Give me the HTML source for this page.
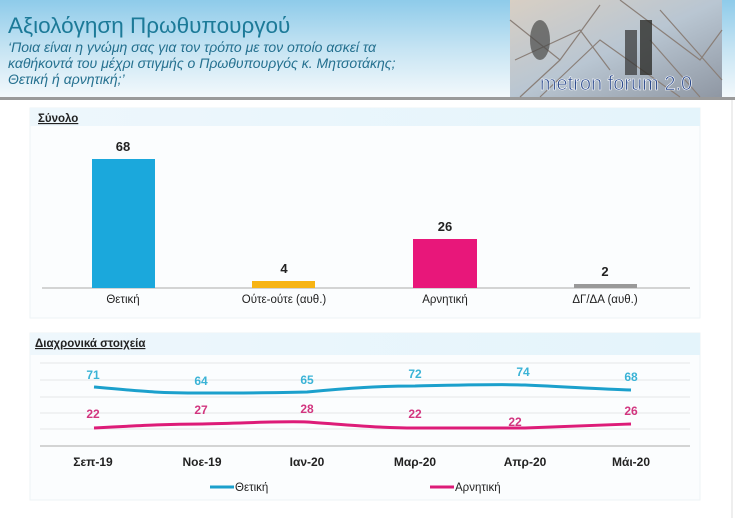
<!DOCTYPE html>
<html><head><meta charset="utf-8"><style>
body{margin:0;width:735px;height:518px;overflow:hidden;background:#fff;font-family:"Liberation Sans","DejaVu Sans",sans-serif;}
</style></head><body>
<svg width="735" height="518" xmlns="http://www.w3.org/2000/svg" font-family="Liberation Sans, DejaVu Sans, sans-serif">
<defs>
<linearGradient id="hd" x1="0" y1="0" x2="0" y2="1"><stop offset="0" stop-color="#8ecbea"/><stop offset="0.5" stop-color="#c6e4f3"/><stop offset="1" stop-color="#f4f9fc"/></linearGradient>
<linearGradient id="ph" x1="0" y1="0" x2="1" y2="0"><stop offset="0" stop-color="#eef7fc"/><stop offset="1" stop-color="#e4f4fb"/></linearGradient>
<linearGradient id="im" x1="0" y1="0" x2="1" y2="1"><stop offset="0" stop-color="#d8cfc4"/><stop offset="0.5" stop-color="#b9c6d2"/><stop offset="1" stop-color="#8f97a3"/></linearGradient>
</defs>
<rect x="0" y="0" width="735" height="98" fill="url(#hd)"/>
<rect x="0" y="97" width="735" height="3" fill="#9a9a9a"/>
<rect x="510" y="0" width="212" height="97" fill="url(#im)"/>
<path d="M510 20 L560 60 L600 5 M540 97 L600 40 L680 97 M620 0 L700 60 L722 30 M560 60 L520 97 M650 40 L700 97 M515 60 L580 30 L610 70 M660 10 L722 80" stroke="#8a7f78" stroke-width="1.2" fill="none"/>
<ellipse cx="540" cy="40" rx="10" ry="20" fill="#4a4a48" opacity="0.7"/>
<rect x="625" y="30" width="12" height="45" fill="#333" opacity="0.7"/>
<rect x="640" y="20" width="12" height="55" fill="#2e2e2a" opacity="0.8"/>
<text x="616" y="90" font-size="20" fill="#2b4a8c" stroke="#ffffff" stroke-width="0.6" text-anchor="middle">metron forum 2.0</text>
<line x1="732" y1="100" x2="732" y2="518" stroke="#ddd"/>
<text x="8" y="33" font-size="22.5" fill="#1c7a98">Αξιολόγηση Πρωθυπουργού</text>
<g font-size="14" font-style="italic" fill="#24708f">
<text x="8" y="52">‘Ποια είναι η γνώμη σας για τον τρόπο με τον οποίο ασκεί τα</text>
<text x="8" y="68">καθήκοντά του μέχρι στιγμής ο Πρωθυπουργός κ. Μητσοτάκης;</text>
<text x="8" y="84">Θετική ή αρνητική;’</text>
</g>
<rect x="30" y="108" width="670" height="210" fill="#fbfdfe" stroke="#eef3f6"/>
<rect x="30" y="108" width="670" height="18" fill="url(#ph)"/>
<text x="38" y="122" font-size="11.5" font-weight="bold" fill="#222" text-decoration="underline">Σύνολο</text>
<line x1="42" y1="288" x2="690" y2="288" stroke="#bbb" stroke-width="1.2"/>
<rect x="92" y="159" width="63" height="129" fill="#1ba8dc"/>
<rect x="252" y="281" width="63" height="7" fill="#f7b414"/>
<rect x="413" y="239" width="64" height="49" fill="#e8177a"/>
<rect x="574" y="284" width="63" height="4" fill="#999"/>
<g font-size="13" font-weight="bold" fill="#222" text-anchor="middle">
<text x="123" y="151">68</text><text x="284" y="273">4</text><text x="445" y="231">26</text><text x="605" y="276">2</text>
</g>
<g font-size="11.5" fill="#222" text-anchor="middle">
<text x="123" y="303">Θετική</text><text x="284" y="303">Ούτε-ούτε (αυθ.)</text><text x="445" y="303">Αρνητική</text><text x="605" y="303">ΔΓ/ΔΑ (αυθ.)</text>
</g>
<rect x="30" y="333" width="670" height="167" fill="#fbfdfe" stroke="#eef3f6"/>
<rect x="30" y="333" width="670" height="22" fill="url(#ph)"/>
<text x="35" y="347" font-size="11.5" font-weight="bold" fill="#222" text-decoration="underline">Διαχρονικά στοιχεία</text>
<g stroke="#e4e6e8" stroke-width="1">
<line x1="40" y1="363" x2="690" y2="363"/><line x1="40" y1="380" x2="690" y2="380"/><line x1="40" y1="397" x2="690" y2="397"/><line x1="40" y1="413" x2="690" y2="413"/><line x1="40" y1="429" x2="690" y2="429"/>
</g>
<line x1="40" y1="446" x2="690" y2="446" stroke="#bbb" stroke-width="1.2"/>
<path d="M94 387 C150 392 160 393 202 393 C250 393 270 393 307 392 C350 388 380 386 415 386 C460 385 500 384 525 385 C570 387 600 389 631 390" stroke="#1ba0cc" stroke-width="3" fill="none"/>
<path d="M94 428 C150 425 170 424 202 424 C250 423 280 421 307 422 C350 425 380 428 415 428 C460 428 500 428 525 428 C570 426 600 425 631 424" stroke="#dd1c78" stroke-width="3" fill="none"/>
<g font-size="12" font-weight="bold" fill="#3ab3d6" text-anchor="middle">
<text x="93" y="379">71</text><text x="201" y="385">64</text><text x="307" y="384">65</text><text x="415" y="378">72</text><text x="523" y="376">74</text><text x="631" y="381">68</text>
</g>
<g font-size="12" font-weight="bold" fill="#d2357f" text-anchor="middle">
<text x="93" y="418">22</text><text x="201" y="414">27</text><text x="307" y="413">28</text><text x="415" y="418">22</text><text x="515" y="426">22</text><text x="631" y="415">26</text>
</g>
<g font-size="12" font-weight="bold" fill="#222" text-anchor="middle">
<text x="93" y="466">Σεπ-19</text><text x="202" y="466">Νοε-19</text><text x="307" y="466">Ιαν-20</text><text x="415" y="466">Μαρ-20</text><text x="525" y="466">Απρ-20</text><text x="631" y="466">Μάι-20</text>
</g>
<line x1="210" y1="487" x2="234" y2="487" stroke="#1ba0cc" stroke-width="3"/>
<text x="235" y="491" font-size="11.5" fill="#222">Θετική</text>
<line x1="430" y1="487" x2="454" y2="487" stroke="#dd1c78" stroke-width="3"/>
<text x="455" y="491" font-size="11.5" fill="#222">Αρνητική</text>
</svg>
</body></html>
